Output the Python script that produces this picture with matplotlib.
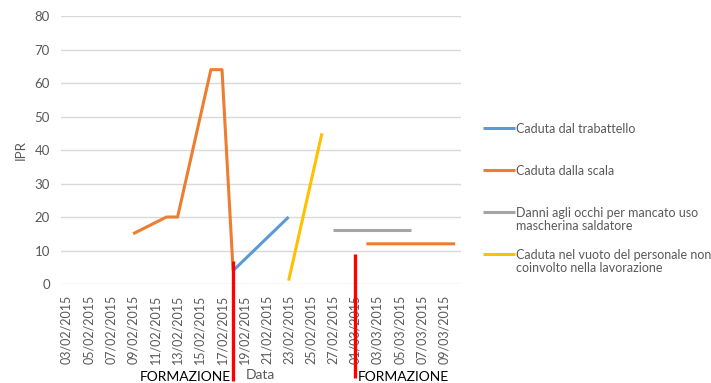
import matplotlib.pyplot as plt
from matplotlib.lines import Line2D
import numpy as np
import pandas as pd

# Giorni sull'asse delle categorie
giorni = pd.date_range('2015-02-03', '2015-03-10', freq='D')
etichette = giorni.strftime('%d/%m/%Y')

# Serie IPR (date e valori, None = interruzione della linea)
trabattello_date = ['18/02/2015', '23/02/2015']
trabattello_ipr = [4, 20]

scala_date = ['09/02/2015', '12/02/2015', '13/02/2015', '16/02/2015', '17/02/2015', '18/02/2015',
              None, '02/03/2015', '10/03/2015']
scala_ipr = [15, 20, 20, 64, 64, 4, None, 12, 12]

occhi_date = ['27/02/2015', '06/03/2015']
occhi_ipr = [16, 16]

vuoto_date = ['23/02/2015', '26/02/2015']
vuoto_ipr = [1, 45]

# Momenti di formazione (linee rosse)
formazione_date = ['18/02/2015', '01/03/2015']
formazione_top = [7, 9]
formazione_bottom = [-29, -28]

serie = [
    ('Caduta dal trabattello', trabattello_date, trabattello_ipr, '#5B9BD5'),
    ('Caduta dalla scala', scala_date, scala_ipr, '#ED7D31'),
    ('Danni agli occhi per mancato uso\nmascherina saldatore', occhi_date, occhi_ipr, '#A5A5A5'),
    ('Caduta nel vuoto del personale non\ncoinvolto nella lavorazione', vuoto_date, vuoto_ipr, '#FFC000'),
]

pos = {e: i for i, e in enumerate(etichette)}

plt.rcParams['font.family'] = ['Lato', 'DejaVu Sans']
grigio = '#595959'

W, H = 711, 383
fig = plt.figure(figsize=(W / 100, H / 100), dpi=100)
ax = fig.add_axes([0.0858, 0.2585, 0.5622, 0.6995])

for nome, date, valori, colore in serie:
    x = [pos[d] if d is not None else np.nan for d in date]
    y = [v if v is not None else np.nan for v in valori]
    ax.plot(x, y, color=colore, linewidth=2.2, solid_capstyle='butt')

# Linee rosse della formazione
for d, top, bot in zip(formazione_date, formazione_top, formazione_bottom):
    ax.plot([pos[d], pos[d]], [top, bot], color='#FF0000', linewidth=2.4,
            clip_on=False, zorder=5, solid_capstyle='butt')

ax.text(pos[formazione_date[0]] - 0.2, -0.347, 'FORMAZIONE', transform=ax.get_xaxis_transform(),
        ha='right', va='center', fontsize=10, color='black')
ax.text(pos[formazione_date[1]] + 0.2, -0.347, 'FORMAZIONE', transform=ax.get_xaxis_transform(),
        ha='left', va='center', fontsize=10, color='black')

ax.set_xlim(-0.5, len(giorni) - 0.5)
ax.set_ylim(0, 80)
ax.set_yticks(range(0, 81, 10))
ax.set_xticks(range(0, len(giorni), 2))
ax.set_xticklabels(etichette[::2], rotation=90)
ax.tick_params(length=0, labelsize=9, colors=grigio, pad=8)
ax.tick_params(axis='y', labelsize=9.5, pad=8)

ax.grid(axis='y', color='#D9D9D9', linewidth=1)
ax.set_axisbelow(True)
for s in ax.spines.values():
    s.set_visible(False)

ax.set_xlabel('Data', fontsize=10, color=grigio)
ax.xaxis.set_label_coords(0.5, -0.318)
ax.set_ylabel('IPR', fontsize=9.5, color=grigio)
ax.yaxis.set_label_coords(-0.085, 0.5)

# Legenda a destra, una voce ogni 42 px
for i, (nome, date, valori, colore) in enumerate(serie):
    yp = 1 - (128 + 42 * i) / H
    fig.add_artist(Line2D([483 / W, 515 / W], [yp, yp], color=colore, linewidth=2.2,
                          transform=fig.transFigure, solid_capstyle='butt'))
    fig.text(516 / W, yp + 5 / H, nome, ha='left', va='top', fontsize=9,
             color=grigio, linespacing=1.15)

fig.savefig('out.png', dpi=100)
